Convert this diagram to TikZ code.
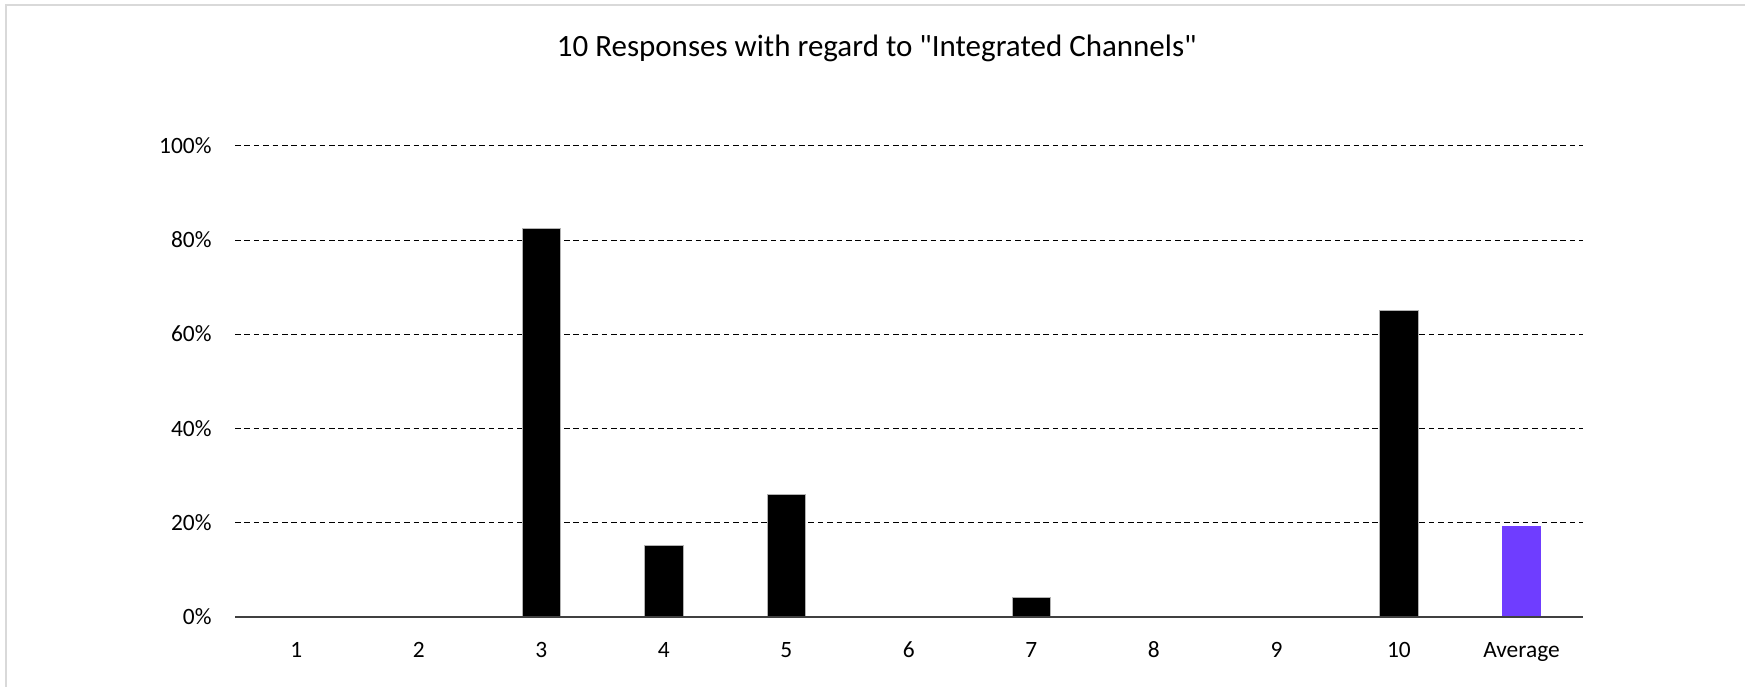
\documentclass[tikz,border=0pt]{standalone}
\usepackage{fontspec}
\setmainfont{Carlito}
\newfontfamily\plaincarlito{Carlito}
\definecolor{avgpurple}{RGB}{111,61,255}
\definecolor{framegray}{RGB}{217,217,217}
\definecolor{axisgray}{RGB}{64,64,64}
\begin{document}
\begin{tikzpicture}[x=1pt,y=-1pt,
  ticklab/.style={anchor=base east, inner sep=0pt, font=\fontsize{23.4}{28}\selectfont},
  catlab/.style={anchor=base, inner sep=0pt, font=\fontsize{23.4}{28}\selectfont},
  titlelab/.style={anchor=base, inner sep=0pt, font=\plaincarlito\fontsize{31}{37}\selectfont},
  gridline/.style={black, line width=1pt, dash pattern=on 5.5pt off 3.9pt},
  barbox/.style={fill=black, draw=gray!60, line width=0.8pt},
  avgbox/.style={fill=avgpurple, draw=none},
  axisline/.style={axisgray, line width=2pt}]
\useasboundingbox (0,0) rectangle (1745,687);
\fill[white] (0,0) rectangle (1745,687);
\draw[framegray, line width=2.5pt] (6,700) -- (6,5) -- (1760,5);
% title
\node[titlelab] (title) at (876.7,56.7) {10 Responses with regard to "Integrated Channels"};
% gridlines and tick labels
\foreach \k/\lab in {1/20\%,2/40\%,3/60\%,4/80\%,5/100\%}{
  \coordinate (gl\k) at (235,{617.3-\k*94.32});
  \coordinate (gr\k) at (1582.7,{617.3-\k*94.32});
  \draw[gridline] (gl\k) -- (gr\k);
  \node[ticklab] (tick\k) at (211.7,{617.3-\k*94.32+7.4}) {\lab};
}
\node[ticklab] (tick0) at (211.7,624.7) {0\%};
% bars
\foreach \i/\top in {3/228.3,4/545.7,5/494.3,7/597.6,10/310.5}{
  \draw[barbox] ({235+(\i-0.5)*122.52-19.25},617.3) rectangle ({235+(\i-0.5)*122.52+19.25},\top);
}
\fill[avgbox] ({235+10.5*122.52-19.25},617.3) rectangle ({235+10.5*122.52+19.25},526);
% axis
\coordinate (axl) at (235,617.3);
\coordinate (axr) at (1582.7,617.3);
\draw[axisline] (axl) -- (axr);
% category labels
\foreach \i/\lab in {1/1,2/2,3/3,4/4,5/5,6/6,7/7,8/8,9/9,10/10,11/Average}{
  \node[catlab] (cat\i) at ({235+(\i-0.5)*122.52},657.3) {\lab};
}
\end{tikzpicture}
\end{document}
